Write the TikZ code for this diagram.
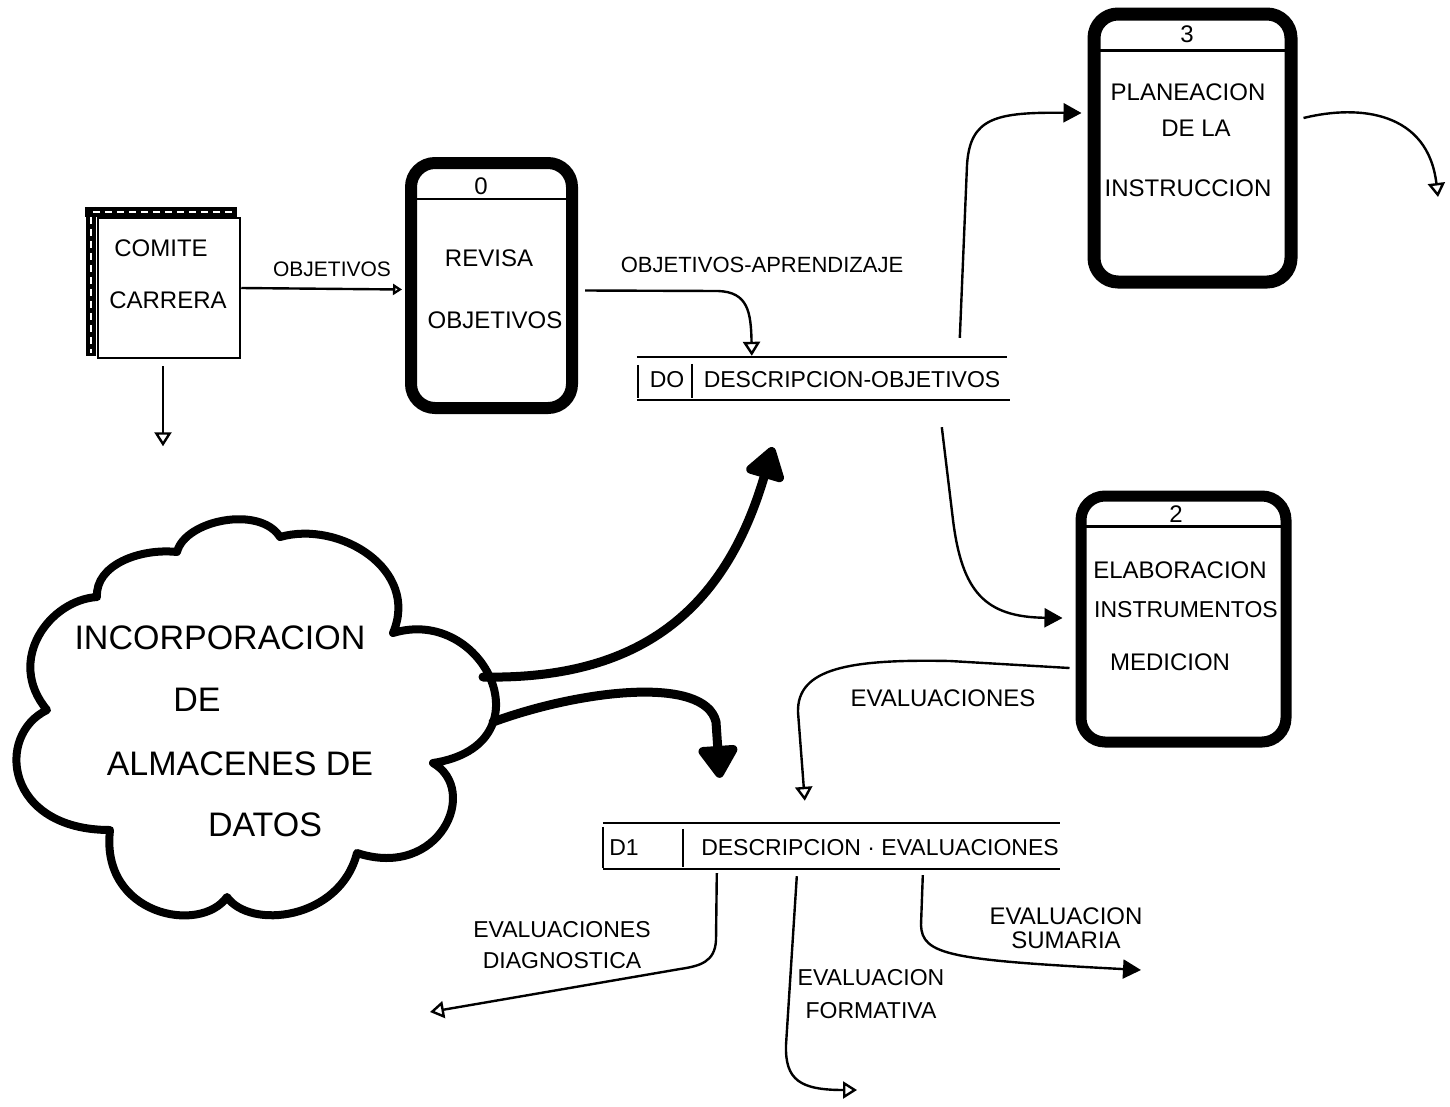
\documentclass[tikz,border=0pt]{standalone}
\usepackage{fontspec}
\setmainfont{Liberation Sans}
\usetikzlibrary{arrows.meta,calc}
\begin{document}
\begin{tikzpicture}[x=1pt,y=-1pt,
  txt/.style={font=\fontsize{24}{28}\selectfont, inner sep=0pt, align=center},
  small/.style={font=\fontsize{21}{24}\selectfont, inner sep=0pt},
  big/.style={font=\fontsize{34}{38}\selectfont, inner sep=0pt},
  proc/.style={draw, line width=12pt, rounded corners=24pt, inner sep=0pt},
  entity/.style={draw, line width=2.5pt, inner sep=0pt},
  storebox/.style={inner sep=0pt},
  thinline/.style={line width=2.5pt},
  flow/.style={line width=2.4pt, -{Triangle[open,length=14pt,width=17pt]}},
  flowsmall/.style={line width=2.4pt, -{Triangle[open,length=9pt,width=11pt]}},
  flowfill/.style={line width=2.4pt, -{Triangle[length=18pt,width=19pt]}},
  bigflow/.style={line width=9pt, line cap=round, -{Triangle[length=36pt,width=44pt,round]}},
  cloudline/.style={line width=8pt, line cap=round, line join=round}
]
\path[use as bounding box, fill=white] (0,0) rectangle (1450,1106);

% ---------- external entity ----------
\node[entity, minimum width=142pt, minimum height=140pt] (comite) at (169,288) {};
\draw[line width=10pt] ($(comite.north west)+(-12,-5)$) -- ($(comite.north east)+(-4,-5)$);
\draw[line width=10pt] ($(comite.north west)+(-6,-10)$) -- ($(comite.south west)+(-6,-3)$);
\draw[white, line width=2.5pt, dash pattern=on 7pt off 5pt] ($(comite.north west)+(-4,-5)$) -- ($(comite.north east)+(-8,-5)$);
\draw[white, line width=2.5pt, dash pattern=on 7pt off 5pt] ($(comite.north west)+(-6,0)$) -- ($(comite.south west)+(-6,-6)$);
\node[txt] (comiteA) at (161,248) {COMITE};
\node[txt] (comiteB) at (168,300) {CARRERA};

% ---------- process 0 ----------
\node[proc, minimum width=161pt, minimum height=245pt] (revisa) at (491.5,285.5) {};
\draw[thinline] ($(revisa.north west)+(8,42)$) -- ($(revisa.north east)+(-8,42)$);
\node[txt] (revisaN) at (481,186) {0};
\node[txt] (revisaA) at (489,258) {REVISA};
\node[txt] (revisaB) at (495,320) {OBJETIVOS};

% ---------- process 3 ----------
\node[proc, line width=13pt, minimum width=197pt, minimum height=268pt] (p3) at (1192.5,148) {};
\draw[thinline] ($(p3.north west)+(8,43)$) -- ($(p3.north east)+(-8,43)$);
\node[txt] (p3N) at (1187,34) {3};
\node[txt] (p3A) at (1188,92) {PLANEACION};
\node[txt] (p3B) at (1196,128) {DE LA};
\node[txt] (p3C) at (1188,188) {INSTRUCCION};

% ---------- process 2 ----------
\node[proc, line width=11pt, minimum width=205pt, minimum height=246pt] (p2) at (1183.5,619) {};
\draw[thinline] ($(p2.north west)+(7,36)$) -- ($(p2.north east)+(-7,36)$);
\node[txt] (p2N) at (1176,514) {2};
\node[txt] (p2A) at (1180,570) {ELABORACION};
\node[txt, font=\fontsize{23}{28}\selectfont] (p2B) at (1186,610) {INSTRUMENTOS};
\node[txt] (p2C) at (1170,662) {MEDICION};

% ---------- store D0 ----------
\node[storebox, minimum width=370pt, minimum height=43pt] (d0) at (822,378.5) {};
\draw[thinline] (d0.north west) -- (d0.north east);
\draw[thinline] (d0.south west) -- ($(d0.south east)+(3,0)$);
\draw[thinline] ($(d0.north west)+(1,8)$) -- ($(d0.south west)+(1,-2)$);
\draw[thinline] ($(d0.north west)+(55,7)$) -- ($(d0.south west)+(55,-2)$);
\node[txt, font=\fontsize{23}{28}\selectfont] (d0id) at (667,380) {DO};
\node[txt, font=\fontsize{23}{28}\selectfont] (d0txt) at (852,380) {DESCRIPCION-OBJETIVOS};

% ---------- store D1 ----------
\node[storebox, minimum width=457pt, minimum height=46pt] (d1) at (831.5,846) {};
\draw[thinline] (d1.north west) -- (d1.north east);
\draw[thinline] (d1.south west) -- (d1.south east);
\draw[thinline] ($(d1.north west)+(0,4)$) -- ($(d1.south west)+(0,-1)$);
\draw[thinline] ($(d1.north west)+(80,6)$) -- ($(d1.south west)+(80,-2)$);
\node[txt, font=\fontsize{23}{28}\selectfont] (d1id) at (624,848) {D1};
\node[txt, font=\fontsize{23}{28}\selectfont] (d1txt) at (880,848) {DESCRIPCION · EVALUACIONES};

% ---------- cloud ----------
\draw[cloudline] (97,597)
  .. controls (95,565) and (140,548) .. (177,552)
  .. controls (185,520) and (260,505) .. (280,537)
  .. controls (340,520) and (420,570) .. (393,633)
  .. controls (485,605) and (550,745) .. (433,763)
  .. controls (480,790) and (440,880) .. (357,853)
  .. controls (340,920) and (250,930) .. (227,897)
  .. controls (200,935) and (100,915) .. (110,830)
  .. controls (5,830) and (-5,735) .. (47,710)
  .. controls (5,660) and (50,600) .. (97,597);
\node[big] (cloudA) at (220,638) {INCORPORACION};
\node[big] (cloudB) at (197,700) {DE};
\node[big] (cloudC) at (240,764) {ALMACENES DE};
\node[big] (cloudD) at (265,825) {DATOS};
\coordinate (cloudOut1) at (483,677);
\coordinate (cloudOut2) at (493,722);

% ---------- flows ----------
\draw[flow] ($(comite.south)+(-6,7)$) -- ($(comite.south)+(-6,87)$);
\draw[flowsmall] (comite.east) -- ($(revisa.west)+(-3,4)$);
\node[small] (lobj) at (332,269) {OBJETIVOS};

\draw[flow] ($(revisa.east)+(7,5)$) -- (718,291)
  .. controls (748,292) and (751,312) .. ($(d0.north west)+(115,-1)$);
\node[txt, font=\fontsize{22}{26}\selectfont] (lobjap) at (762,265) {OBJETIVOS-APRENDIZAJE};

\draw[flowfill] ($(d0.north west)+(323,-19)$) -- (967,165)
  .. controls (970,118) and (995,112) .. ($(p3.west)+(-6,-35)$);

\coordinate (p3end) at (1438,197);
\draw[flow] ($(p3.east)+(6,-30)$) .. controls (1360,104) and (1428,112) .. (p3end);

\draw[flowfill] ($(d0.south west)+(305,27)$) -- (953,520)
  .. controls (962,592) and (985,617) .. ($(p2.west)+(-13,-1)$);

\draw[flow] ($(p2.west)+(-6,49)$) -- (950,661)
  .. controls (850,659) and (797,668) .. (798,712) -- ($(d1.north west)+(202,-22)$);
\node[txt] (leval) at (943,698) {EVALUACIONES};

\draw[bigflow] (cloudOut1) .. controls (640,680) and (725,610) .. ($(d0.south west)+(136,47)$);
\draw[bigflow] (cloudOut2) .. controls (580,690) and (705,675) .. (716,722) -- ($(d1.north west)+(117,-45)$);

\coordinate (diagEnd) at (430,1012);
\draw[flow] ($(d1.south west)+(114,4)$) -- (716,940)
  .. controls (715,962) and (700,966) .. (680,969) -- (diagEnd);
\node[txt, font=\fontsize{23}{28}\selectfont] (ldiag) at (562,945) {EVALUACIONES\\[3pt]DIAGNOSTICA};

\coordinate (formEnd) at (857,1090);
\draw[flow] ($(d1.south west)+(194,7)$) -- (786,1045)
  .. controls (785,1080) and (800,1090) .. (formEnd);
\node[txt, font=\fontsize{23}{28}\selectfont] (lform) at (871,994) {EVALUACION\\[5pt]FORMATIVA};

\coordinate (sumEnd) at (1141,970);
\draw[flowfill] ($(d1.south west)+(320,6)$) -- (921,925)
  .. controls (922,955) and (950,960) .. (sumEnd);
\node[txt] (lsum) at (1066,928) {EVALUACION\\[-4pt]SUMARIA};

\end{tikzpicture}
\end{document}
